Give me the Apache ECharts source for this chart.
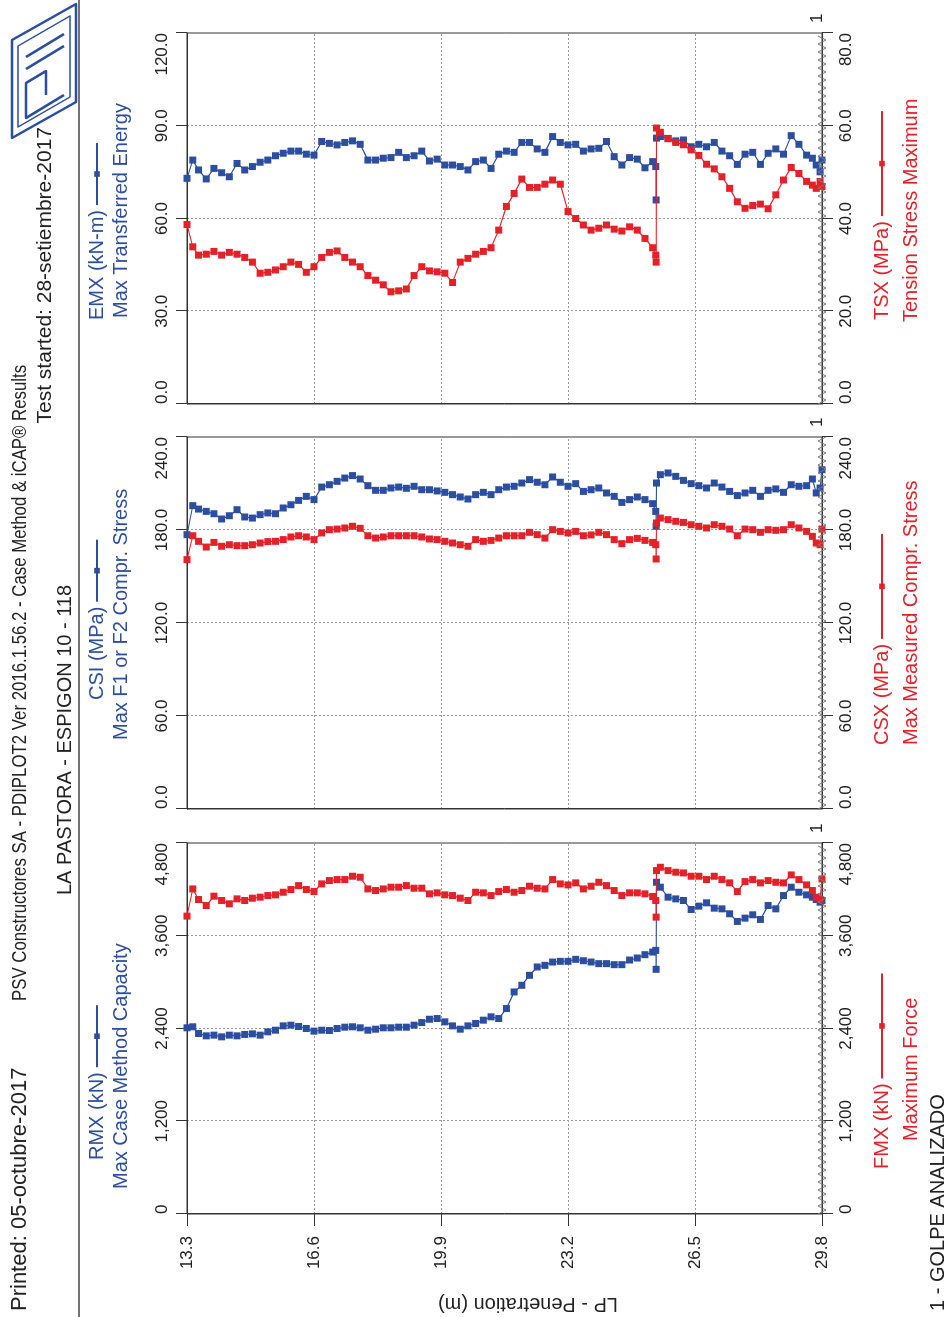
<!DOCTYPE html>
<html>
<head>
<meta charset="utf-8">
<script src="https://cdn.jsdelivr.net/npm/echarts@6/dist/echarts.min.js"></script>
<style>
  html, body { margin: 0; padding: 0; background: #fff; width: 952px; height: 1317px; overflow: hidden; }
  /* The report is laid out in landscape and turned a quarter turn to fit the portrait page. */
  #chart { position: absolute; left: 0; top: 0; width: 1317px; height: 952px;
           transform-origin: 0 0; transform: translateY(1317px) rotate(-90deg); background: #fff; }
</style>
</head>
<body>
<div id="chart"></div>
<script>
// Penetration (m) of each sampled blow
const depth = [
  13.30,13.45,13.60,13.80,14.00,14.20,14.40,14.60,14.80,15.00,
  15.20,15.40,15.60,15.80,16.00,16.20,16.40,16.60,16.80,17.00,
  17.20,17.40,17.60,17.80,18.00,18.20,18.40,18.60,18.80,19.00,
  19.20,19.40,19.60,19.80,20.00,20.20,20.40,20.60,20.80,21.00,
  21.20,21.40,21.60,21.80,22.00,22.20,22.40,22.60,22.80,23.00,
  23.20,23.40,23.60,23.80,24.00,24.20,24.40,24.60,24.80,25.00,
  25.20,25.40,25.48,25.49,25.50,25.60,25.80,26.00,26.20,26.40,
  26.60,26.80,27.00,27.20,27.40,27.60,27.80,28.00,28.20,28.40,
  28.60,28.80,29.00,29.20,29.40,29.55,29.65,29.75,29.80
];

// RMX (kN) - Max Case Method Capacity
const rmx = [
  2409,2422,2335,2305,2314,2292,2314,2305,2323,2331,
  2314,2357,2378,2434,2443,2426,2400,2366,2378,2374,
  2400,2417,2422,2409,2378,2391,2409,2409,2417,2417,
  2443,2477,2520,2529,2486,2434,2391,2434,2465,2508,
  2551,2529,2658,2873,2959,3088,3196,3217,3260,3269,
  3269,3295,3277,3260,3239,3239,3226,3226,3286,3312,
  3355,3389,3411,3166,4292,4228,4099,4077,4056,3940,
  3983,4026,3957,3948,3884,3785,3828,3871,3811,3991,
  3948,4120,4228,4163,4129,4099,4069,4034,4056
];

// FMX (kN) - Maximum Force
const fmx = [
  3854,4206,4069,3991,4112,4056,4013,4077,4056,4086,
  4099,4120,4129,4163,4198,4249,4198,4172,4271,4314,
  4327,4327,4370,4357,4206,4185,4206,4228,4228,4249,
  4215,4215,4142,4155,4129,4120,4086,4056,4163,4155,
  4120,4172,4198,4163,4185,4241,4215,4206,4327,4271,
  4258,4284,4206,4241,4292,4249,4185,4120,4155,4155,
  4142,4108,4056,3841,4443,4486,4443,4422,4413,4370,
  4370,4327,4370,4327,4284,4172,4301,4327,4284,4314,
  4292,4284,4387,4327,4258,4185,4099,4069,4335
];

// CSI (MPa) - Max F1 or F2 Compr. Stress
const csi = [
  177.0,195.7,193.5,192.0,190.5,187.1,189.2,193.1,188.4,187.7,
  189.9,191.0,190.5,194.2,196.3,199.1,201.7,199.6,207.7,209.2,
  211.4,213.5,215.1,212.9,208.6,205.6,205.6,207.1,207.7,206.9,
  208.2,206.0,206.0,205.2,204.3,202.8,201.3,200.0,202.8,204.3,
  202.8,206.0,207.7,208.2,210.3,212.5,210.8,209.2,214.2,210.8,
  208.2,209.9,204.9,206.0,207.1,203.9,201.7,197.8,199.6,201.3,
  199.6,197.0,192.0,182.4,210.3,215.7,216.8,214.6,212.0,209.9,
  208.6,207.1,210.3,207.7,204.9,202.2,203.9,205.6,201.7,205.6,
  206.5,204.3,209.2,208.2,208.6,212.9,203.9,207.1,218.9
];

// CSX (MPa) - Max Measured Compr. Stress
const csx = [
  160.9,176.3,172.7,169.0,172.0,169.5,170.5,169.9,169.9,170.5,
  171.6,172.5,172.7,173.8,175.5,176.3,175.5,173.8,178.1,180.2,
  180.6,181.3,182.4,181.1,176.3,174.8,175.5,176.3,176.3,176.3,
  176.3,175.5,174.2,173.8,172.7,171.6,170.5,169.5,173.8,172.7,
  173.3,174.8,176.3,176.3,176.3,178.5,177.0,174.8,180.2,179.1,
  178.1,179.1,176.3,176.8,178.5,177.0,173.8,171.2,173.8,174.6,
  173.3,172.0,170.5,161.3,184.5,187.7,186.7,185.6,184.9,183.4,
  182.4,181.3,183.4,182.4,180.6,176.3,180.6,180.2,178.5,180.2,
  179.8,180.2,183.4,181.3,179.1,175.9,171.6,170.5,180.6
];

// EMX (kN-m) - Max Transferred Energy
const emx = [
  73.0,78.9,75.7,72.8,76.2,74.8,73.5,77.8,75.7,76.8,
  78.2,78.9,80.3,81.1,81.8,81.8,80.8,80.5,84.9,84.3,
  83.8,84.6,85.1,84.0,78.9,78.9,79.5,79.7,81.4,79.7,
  80.3,81.8,78.6,79.2,77.3,77.3,76.8,75.7,78.4,78.9,
  76.2,80.8,81.8,81.4,84.6,84.6,82.5,81.4,86.5,84.6,
  83.8,84.0,81.8,82.5,82.7,84.9,80.0,77.3,79.7,79.2,
  76.4,78.4,76.8,66.0,86.0,86.5,85.9,85.1,85.4,83.2,
  84.0,83.2,84.6,81.8,80.3,77.5,80.8,81.4,77.5,81.1,
  82.5,80.8,86.8,84.0,80.5,79.5,77.3,75.1,78.9
];

// TSX (MPa) - Tension Stress Maximum
const tsx = [
  38.7,33.9,32.1,32.3,32.9,32.1,32.7,32.3,31.6,30.6,
  28.2,28.4,28.9,29.6,30.6,30.1,28.4,29.6,31.6,32.7,
  33.0,31.6,30.6,29.6,27.7,26.7,25.7,24.2,24.4,24.8,
  27.7,29.6,28.7,28.5,28.2,26.2,30.6,31.4,32.3,32.9,
  33.7,37.5,42.6,45.4,48.5,46.7,46.7,47.4,48.3,47.4,
  41.5,40.0,38.6,37.5,37.9,38.6,37.7,37.3,38.2,37.5,
  35.7,33.7,32.1,30.6,59.5,58.6,57.2,56.4,55.9,54.8,
  53.6,51.7,50.7,49.0,46.5,43.6,42.2,42.8,43.1,42.1,
  45.1,48.3,51.0,49.7,48.0,47.2,46.5,48.0,46.9
];

// Axis ranges
const depthMin = 13.3, depthMax = 29.8, depthStep = 3.3;
const forceMax = 4800, stressMax = 240, energyMax = 120, tensionMax = 80;

const FONT = "'Liberation Sans', Arial, Helvetica, sans-serif";
const BLUE = '#2c4ea1';
const RED = '#e42129';
const INK = '#222';
const GRID_LINE = '#9a9a9a';

// Panel boxes in the landscape layout
const GRID_TOP = 187, GRID_H = 635;
const boxes = [
  { left: 103, width: 371 },
  { left: 508, width: 372 },
  { left: 913, width: 371 }
];

const withCommas = v => String(v).replace(/\B(?=(\d{3})+(?!\d))/g, ',');
const oneDecimal = v => v.toFixed(1);

const panels = [
  { top: { name: 'RMX (kN)', desc: 'Max Case Method Capacity', values: rmx, max: forceMax, fmt: withCommas },
    bottom: { name: 'FMX (kN)', desc: 'Maximum Force', values: fmx, max: forceMax, fmt: withCommas },
    legend: { topX: 157, topDescX: 128, botX: 148, botDescX: 176 } },
  { top: { name: 'CSI (MPa)', desc: 'Max F1 or F2 Compr. Stress', values: csi, max: stressMax, fmt: oneDecimal },
    bottom: { name: 'CSX (MPa)', desc: 'Max Measured Compr. Stress', values: csx, max: stressMax, fmt: oneDecimal },
    legend: { topX: 617, topDescX: 577, botX: 572, botDescX: 572 } },
  { top: { name: 'EMX (kN-m)', desc: 'Max Transferred Energy', values: emx, max: energyMax, fmt: oneDecimal },
    bottom: { name: 'TSX (MPa)', desc: 'Tension Stress Maximum', values: tsx, max: tensionMax, fmt: oneDecimal },
    legend: { topX: 997, topDescX: 999, botX: 997, botDescX: 995 } }
];

const grids = [], xAxes = [], yAxes = [], series = [], legends = [], graphics = [];

function valueAxis(gridIndex, position, max, fmt) {
  return {
    type: 'value', gridIndex, position, min: 0, max, interval: max / 4,
    axisLine: { show: true, onZero: false, lineStyle: { color: '#333', width: 1 } },
    axisTick: { show: true, inside: false, length: 11, lineStyle: { color: '#333', width: 1 } },
    axisLabel: {
      show: true, margin: 16, color: INK, fontSize: 17, fontFamily: FONT,
      formatter: fmt, alignMinLabel: 'left', alignMaxLabel: 'right',
      showMinLabel: true, showMaxLabel: true
    },
    splitLine: { show: position === 'top', lineStyle: { color: GRID_LINE, width: 1, type: [2, 2] } }
  };
}

function legendFor(name, x, cy, color, lineLen) {
  return {
    data: [name], left: x, top: cy - 11, padding: 0, align: 'right', orient: 'horizontal',
    itemWidth: lineLen, itemHeight: 7, selectedMode: false,
    textStyle: { color, fontSize: 20, fontFamily: FONT }
  };
}

function label(text, x, cy, size, color, align) {
  return { type: 'text', x, y: cy, silent: true,
    style: { text, fill: color, fontSize: size, fontFamily: FONT, align: align || 'left', verticalAlign: 'middle' } };
}

panels.forEach((p, i) => {
  const b = boxes[i];
  grids.push({ left: b.left, width: b.width, top: GRID_TOP, height: GRID_H,
    show: true, borderColor: '#333', borderWidth: 1, backgroundColor: 'transparent' });

  xAxes.push(valueAxis(i, 'top', p.top.max, p.top.fmt));
  xAxes.push(valueAxis(i, 'bottom', p.bottom.max, p.bottom.fmt));

  yAxes.push({
    type: 'value', gridIndex: i, inverse: true, min: depthMin, max: depthMax, interval: depthStep,
    axisLine: { show: true, onZero: false, lineStyle: { color: '#333', width: 1 } },
    axisTick: { show: i === 0, length: 12, lineStyle: { color: '#333' } },
    axisLabel: { show: i === 0, margin: 22, color: INK, fontSize: 17, fontFamily: FONT,
      formatter: v => v.toFixed(1) },
    splitLine: { show: true, lineStyle: { color: GRID_LINE, width: 1, type: [2, 2] } }
  });

  [['top', BLUE, 2 * i, 1], ['bottom', RED, 2 * i + 1, 2]].forEach(([side, color, xi, z]) => {
    const s = p[side];
    series.push({
      name: s.name, type: 'line', xAxisIndex: xi, yAxisIndex: i, z,
      data: depth.map((d, k) => [s.values[k], d]),
      symbol: 'rect', symbolSize: 7, showSymbol: true, showAllSymbol: true,
      lineStyle: { color, width: 1.2 }, itemStyle: { color },
      emphasis: { disabled: true }, animation: false
    });
  });

  legends.push(legendFor(p.top.name, p.legend.topX, 98, BLUE, 62));
  legends.push(legendFor(p.bottom.name, p.legend.botX, 883, RED, 105));
  graphics.push(label(p.top.desc, p.legend.topDescX, 121, 20, BLUE));
  graphics.push(label(p.bottom.desc, p.legend.botDescX, 911, 20, RED));

  // blow count marker beside the end of the record
  graphics.push(label('1', b.left + b.width + 10, GRID_TOP + GRID_H - 5, 17, INK));
});

// report header
graphics.push(label('Printed: 05-octubre-2017', 6, 20, 22, INK));
graphics.push(Object.assign(
  label('PSV Constructores SA - PDIPLOT2 Ver 2016.1.56.2 - Case Method & iCAP\u00AE Results', 316, 20, 21, INK),
  { scaleX: 0.8 }));
graphics.push(label('Test started: 28-setiembre-2017', 1190, 45, 21, INK, 'right'));
graphics.push(label('LA PASTORA - ESPIGON 10 - 118', 422, 65, 20, INK));
graphics.push({ type: 'line', silent: true, shape: { x1: 0, y1: 79, x2: 1317, y2: 79 },
  style: { stroke: '#444', lineWidth: 1.5 } });
// footer
graphics.push(label('1 - GOLPE ANALIZADO', 6, 938, 20, INK));
// depth axis title
graphics.push({ type: 'text', x: 13, y: 528, rotation: Math.PI / 2, silent: true,
  style: { text: 'LP - Penetration (m)', fill: INK, fontSize: 20, fontFamily: FONT,
    align: 'center', verticalAlign: 'middle' } });

// company logo: slanted rounded frame with the stylised letters
graphics.push({ type: 'group', silent: true, children: [
  { type: 'polygon', shape: { points: [[1179, 12], [1277, 12], [1313, 76], [1215, 76]] },
    style: { fill: 'none', stroke: BLUE, lineWidth: 2.5, lineJoin: 'round' } },
  { type: 'polygon', shape: { points: [[1190, 18], [1271, 18], [1301, 70], [1220, 70]] },
    style: { fill: 'none', stroke: BLUE, lineWidth: 1.5, lineJoin: 'round' } },
  { type: 'polyline', shape: { points: [[1222, 64], [1199, 26], [1234, 26], [1246, 46], [1222, 46]] },
    style: { fill: 'none', stroke: BLUE, lineWidth: 2.5, lineJoin: 'round' } },
  { type: 'polyline', shape: { points: [[1248, 26], [1271, 64]] },
    style: { fill: 'none', stroke: BLUE, lineWidth: 2.5 } },
  { type: 'polyline', shape: { points: [[1260, 26], [1283, 64]] },
    style: { fill: 'none', stroke: BLUE, lineWidth: 2.5 } }
] });

const chart = echarts.init(document.getElementById('chart'), null, { renderer: 'canvas', devicePixelRatio: 1 });
chart.setOption({
  animation: false,
  backgroundColor: '#fff',
  textStyle: { fontFamily: FONT },
  grid: grids, xAxis: xAxes, yAxis: yAxes, series, legend: legends, graphic: graphics
});

// zig-zag border along the end-of-record edge of each panel
const zig = boxes.map((b, i) => {
  const yEnd = chart.convertToPixel({ yAxisIndex: i }, depthMax);
  const pts = [];
  let up = true;
  for (let x = b.left; x <= b.left + b.width; x += 4) {
    pts.push([x, yEnd + (up ? -4 : 4)]);
    up = !up;
  }
  return { type: 'polyline', silent: true, z: 50, shape: { points: pts },
    style: { fill: 'none', stroke: '#7a7a7a', lineWidth: 1 } };
});
chart.setOption({ graphic: graphics.concat(zig) });
</script>
</body>
</html>
